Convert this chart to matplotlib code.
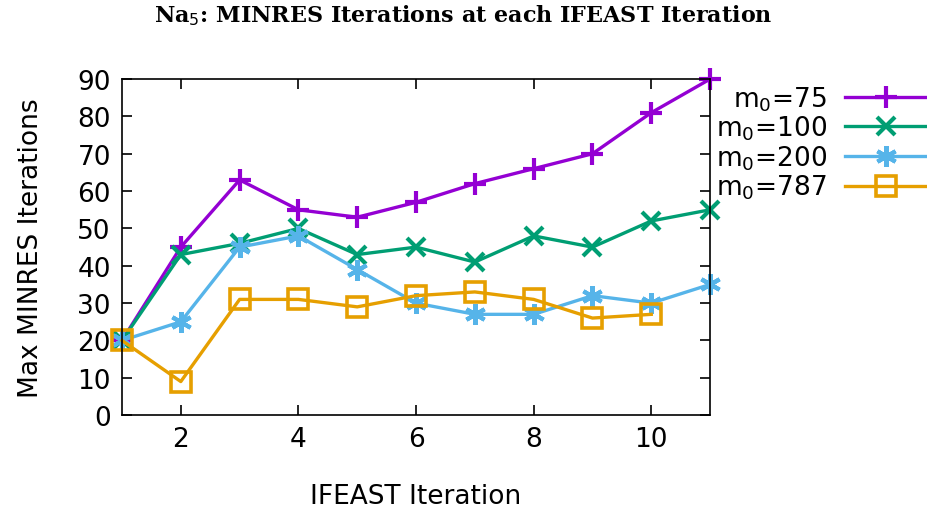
import matplotlib.pyplot as plt

# data
iters = [1, 2, 3, 4, 5, 6, 7, 8, 9, 10, 11]
m75 = [20, 45, 63, 55, 53, 57, 62, 66, 70, 81, 90]
m100 = [20, 43, 46, 50, 43, 45, 41, 48, 45, 52, 55]
m200 = [20, 25, 45, 48, 39, 30, 27, 27, 32, 30, 35]
iters787 = [1, 2, 3, 4, 5, 6, 7, 8, 9, 10]
m787 = [20, 9, 31, 31, 29, 32, 33, 31, 26, 27]

plt.rcParams['font.family'] = 'DejaVu Sans'
plt.rcParams['font.size'] = 19

fig = plt.figure(figsize=(9.27, 5.10), dpi=100)
ax = fig.add_axes([0.1316, 0.184, 0.766 - 0.1316, 0.843 - 0.184])

lw = 2.4
ax.plot(iters, m75, color='#9400D3', lw=lw, marker='+', ms=16, mew=3,
        label='m$_0$=75', clip_on=False)
ax.plot(iters, m100, color='#009E73', lw=lw, marker='x', ms=13, mew=3,
        label='m$_0$=100', clip_on=False)
ax.plot(iters, m200, color='#56B4E9', lw=lw, marker=(6, 2, 0), ms=15, mew=3,
        label='m$_0$=200', clip_on=False)
ax.plot(iters787, m787, color='#E69F00', lw=lw, marker='s', ms=15, mew=2.6,
        mfc='none', label='m$_0$=787', clip_on=False)

ax.set_xlim(1, 11)
ax.set_ylim(0, 90)
ax.set_xticks([2, 4, 6, 8, 10])
ax.set_yticks(range(0, 91, 10))
ax.tick_params(direction='in', top=True, right=True, length=7, width=1.2,
               labelsize=19, pad=8)
for s in ax.spines.values():
    s.set_linewidth(1.2)

ax.set_xlabel('IFEAST Iteration', fontsize=19, labelpad=22)
ax.set_ylabel('Max MINRES Iterations', fontsize=19, labelpad=24)

fig.text(0.5, 0.97, r'Na$_5$: MINRES Iterations at each IFEAST Iteration',
         ha='center', va='center', fontsize=16, fontweight='bold',
         family='DejaVu Serif')

fig.legend(*ax.get_legend_handles_labels(), loc='upper right',
           bbox_to_anchor=(1.0, 0.833), bbox_transform=fig.transFigure,
           frameon=False, markerfirst=False, handlelength=3.1, fontsize=19,
           labelspacing=0.04, borderaxespad=0.0, borderpad=0.0,
           handletextpad=0.7)

fig.savefig('out.png', dpi=100)
